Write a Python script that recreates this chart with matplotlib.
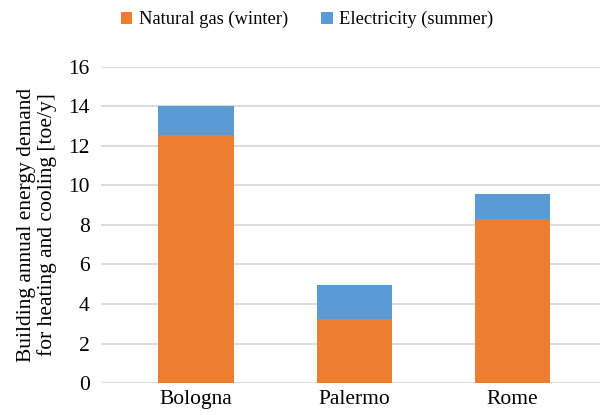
import matplotlib
matplotlib.use('Agg')
import matplotlib.pyplot as plt

cities = ['Bologna', 'Palermo', 'Rome']
natural_gas = [12.55, 3.25, 8.3]
electricity = [1.45, 1.7, 1.25]

plt.rcParams['font.family'] = ['Liberation Serif', 'DejaVu Serif']
plt.rcParams['font.size'] = 15.5

fig = plt.figure(figsize=(6.01, 4.15), dpi=100)
ax = fig.add_axes([0.168, 0.0771, 0.83, 0.7615])

x = range(len(cities))
ax.bar(x, natural_gas, width=0.475, color='#ED7D31', label='Natural gas (winter)', zorder=3)
ax.bar(x, electricity, width=0.475, bottom=natural_gas, color='#5B9BD5',
       label='Electricity (summer)', zorder=3)

ax.set_xlim(-0.6, 2.55)
ax.set_ylim(0, 16)
ax.set_yticks(range(0, 17, 2))
ax.set_xticks(list(x))
ax.set_xticklabels(cities)
ax.yaxis.grid(True, color='#d9d9d9', linewidth=1.3, zorder=0)
for s in ax.spines.values():
    s.set_visible(False)
ax.tick_params(axis='both', length=0)
ax.tick_params(axis='y', pad=8)
ax.tick_params(axis='x', pad=5)
ax.set_ylabel('Building annual energy demand\nfor heating and cooling [toe/y]',
              fontsize=15.5, labelpad=8, linespacing=1.1)

fig.legend(loc='center', bbox_to_anchor=(0.511, 0.953), ncol=2, frameon=False, fontsize=13.3,
           handlelength=0.62, handleheight=0.62, handletextpad=0.35, columnspacing=1.8)

fig.savefig('out.png', dpi=100)
